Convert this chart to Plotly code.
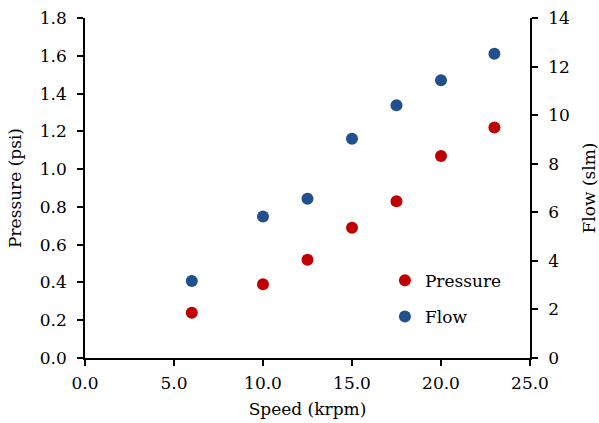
import plotly.graph_objects as go

speed = [6, 10, 12.5, 15, 17.5, 20, 23]
pressure = [0.24, 0.39, 0.52, 0.69, 0.83, 1.07, 1.22]
flow = [3.17, 5.83, 6.56, 9.03, 10.41, 11.44, 12.53]

x_ticks = [0, 5, 10, 15, 20, 25]
y1_ticks = [0, 0.2, 0.4, 0.6, 0.8, 1.0, 1.2, 1.4, 1.6, 1.8]
y2_ticks = [0, 2, 4, 6, 8, 10, 12, 14]

red = "#C00000"
blue = "#21508E"
font_family = "DejaVu Serif"
fs = 17

fig = go.Figure()
fig.add_trace(go.Scatter(x=speed, y=pressure, mode="markers", name="Pressure",
                         marker=dict(color=red, size=12), legendgroup="p"))
fig.add_trace(go.Scatter(x=speed, y=flow, mode="markers", name="Flow",
                         marker=dict(color=blue, size=12), yaxis="y2", legendgroup="f"))

axis_common = dict(showline=True, linecolor="black", linewidth=1.5, ticks="outside",
                   ticklen=6, tickwidth=1.5, tickcolor="black", showgrid=False,
                   zeroline=False, automargin=False,
                   tickfont=dict(family=font_family, size=fs, color="black"))

fig.update_layout(
    width=599, height=423,
    margin=dict(l=85, r=69, t=18, b=65),
    paper_bgcolor="white", plot_bgcolor="white",
    font=dict(family=font_family, size=fs, color="black"),
    xaxis=dict(range=[0, 25], tickvals=x_ticks, tickformat=".1f",
               title=dict(text="Speed (krpm)", standoff=11, font=dict(family=font_family, size=fs)),
               ticklabelstandoff=3, **axis_common),
    yaxis=dict(range=[0, 1.8], tickvals=y1_ticks, tickformat=".1f",
               title=dict(text="Pressure (psi)", standoff=14, font=dict(family=font_family, size=fs)),
               ticklabelstandoff=7, **axis_common),
    yaxis2=dict(range=[0, 14], tickvals=y2_ticks, overlaying="y", side="right",
                title=dict(text="Flow (slm)", standoff=14, font=dict(family=font_family, size=fs)),
                ticklabelstandoff=7, **axis_common),
    showlegend=True,
    legend=dict(x=0.674, y=0.28, xanchor="left", yanchor="top",
                bgcolor="rgba(0,0,0,0)", itemwidth=30, tracegroupgap=11,
                font=dict(family=font_family, size=fs, color="black")),
)

fig.write_html("out.html")
